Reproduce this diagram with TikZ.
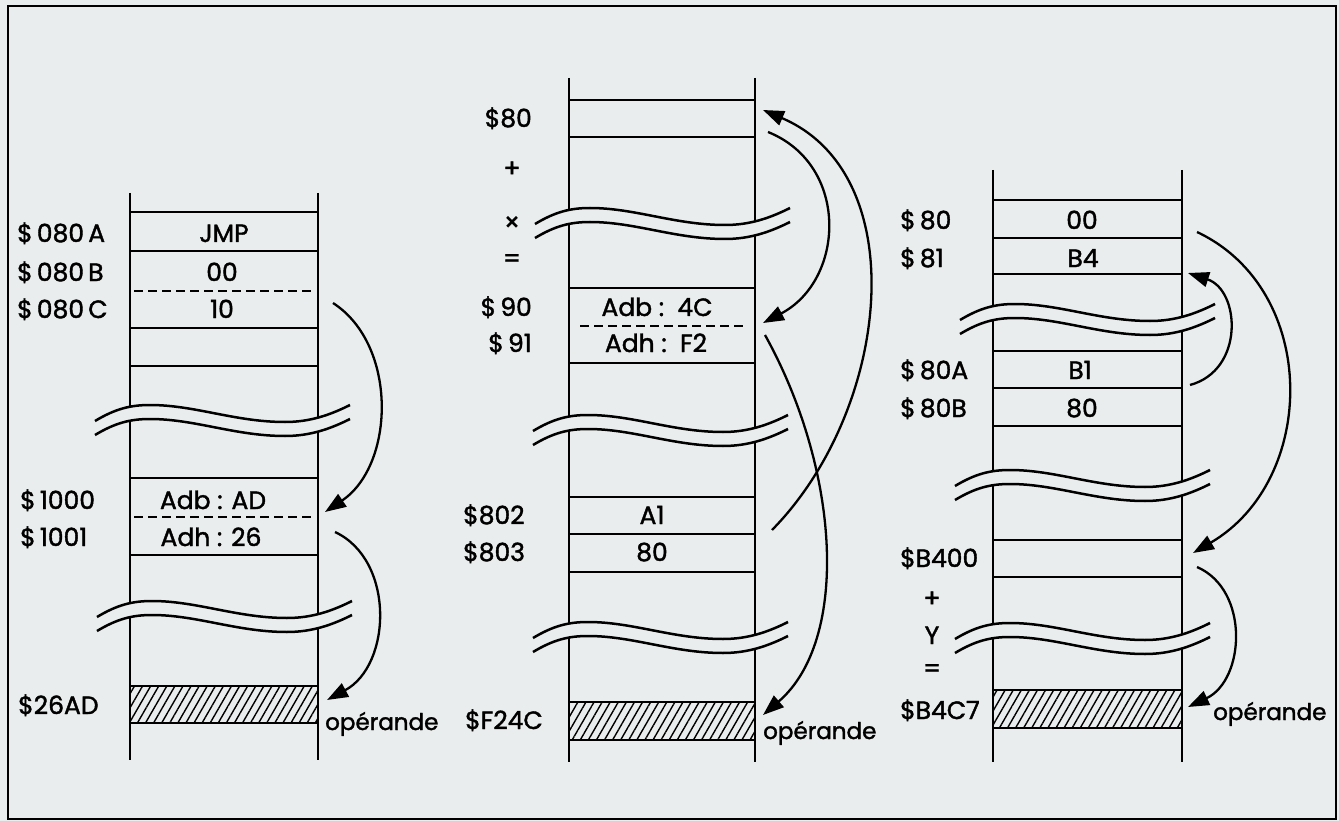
\documentclass[tikz,border=0pt]{standalone}
\usepackage{fontspec}
\setmainfont{Poppins}[FakeBold=1.6]
\usetikzlibrary{arrows.meta,patterns.meta}
\definecolor{bg}{RGB}{234,237,237}
\tikzset{
  lab/.style={inner sep=0pt, text height=18pt, text depth=0pt, font=\fontsize{25}{30}\selectfont},
  oplab/.style={inner sep=0pt, text height=18pt, text depth=0pt, font=\fontsize{23}{28}\selectfont},
  row/.style={line width=2.5pt},
  dashrow/.style={line width=2.5pt, dash pattern=on 9pt off 5pt},
  hatchbox/.style={line width=2.5pt, pattern={Lines[angle=60,distance=7pt,line width=1.4pt]}},
  jump/.style={line width=2.3pt, -{Triangle[length=21pt,width=15pt]}},
  brk/.pic={
    \fill[bg] (0,16) .. controls (20,4) and (35,0) .. (55,0) .. controls (100,0) and (140,17) .. (190,17) .. controls (215,17) and (235,10) .. (255,0)
      -- (255,14) .. controls (235,24) and (215,31) .. (190,31) .. controls (140,31) and (100,14) .. (55,14) .. controls (35,14) and (20,18) .. (0,30) -- cycle;
    \draw[line width=2.5pt] (0,16) .. controls (20,4) and (35,0) .. (55,0) .. controls (100,0) and (140,17) .. (190,17) .. controls (215,17) and (235,10) .. (255,0);
    \draw[line width=2.5pt] (0,30) .. controls (20,18) and (35,14) .. (55,14) .. controls (100,14) and (140,31) .. (190,31) .. controls (215,31) and (235,24) .. (255,14);
  }
}
\begin{document}
\begin{tikzpicture}[x=1pt,y=-1pt]
\useasboundingbox (0,0) rectangle (1339,821);
\fill[bg] (0,0) rectangle (1339,821);
\draw[line width=2.5pt] (8,6) rectangle (1336,819);

% ---------- left column ----------
\draw[line width=2.7pt] (130,193) -- (130,760);
\draw[line width=2.7pt] (318,193) -- (318,760);
\foreach \y in {212,251,328,366,478,555} \draw[row] (130,\y) -- (318,\y);
\draw[dashrow] (134,291) -- (314,291);
\draw[dashrow] (134,517) -- (314,517);
\draw[hatchbox] (130,686) rectangle (318,723);
\pic at (95,405) {brk};
\pic at (97,601) {brk};

% ---------- middle column ----------
\draw[line width=2.7pt] (569,78) -- (569,762);
\draw[line width=2.7pt] (755,78) -- (755,762);
\foreach \y in {100,137,288,363,497,534,572} \draw[row] (569,\y) -- (755,\y);
\draw[dashrow] (580,326) -- (745,326);
\draw[hatchbox] (569,702) rectangle (755,740);
\pic at (535,208) {brk};
\pic at (533,415) {brk};
\pic at (533,622) {brk};

% ---------- right column ----------
\draw[line width=2.7pt] (993,170) -- (993,762);
\draw[line width=2.7pt] (1182,170) -- (1182,762);
\foreach \y in {200,238,274,351,388,426,540,577} \draw[row] (993,\y) -- (1182,\y);
\draw[hatchbox] (993,690) rectangle (1182,728);
\pic at (960,304) {brk};
\pic at (955,470) {brk};
\pic at (955,623) {brk};

% ---------- labels left ----------
\node[lab,anchor=west] (a1) at (17,233) {\$\,080\,A};
\node[lab,anchor=west] (a2) at (17,272) {\$\,080\,B};
\node[lab,anchor=west] (a3) at (17,309) {\$\,080\,C};
\node[lab,anchor=west] (a4) at (20,500) {\$\,1000};
\node[lab,anchor=west] (a5) at (20,537) {\$\,1001};
\node[lab,anchor=west] (a6) at (18,705) {\$26AD};
\node[lab] (c1) at (224,233) {JMP};
\node[lab] (c2) at (222,272) {00};
\node[lab] (c3) at (222,309) {10};
\node[lab] (c4) at (213,500) {Adb : AD};
\node[lab] (c5) at (211,537) {Adh : 26};
\node[oplab,anchor=west] (op1) at (325,721) {opérande};

% ---------- labels middle ----------
\node[lab,anchor=east] (b1) at (532,118) {\$80};
\node[lab] (bp) at (512,168) {+};
\node[lab] (bx) at (512,222) {×};
\node[lab] (be) at (512,258) {=};
\node[lab,anchor=east] (b2) at (532,307) {\$\,90};
\node[lab,anchor=east] (b3) at (532,343) {\$\,91};
\node[lab,anchor=west] (b4) at (463,515) {\$802};
\node[lab,anchor=west] (b5) at (463,552) {\$803};
\node[lab,anchor=west] (b6) at (465,720) {\$F24C};
\node[lab] (d1) at (657,307) {Adb :\ \ 4C};
\node[lab] (d2) at (656,343) {Adh :\ \ F2};
\node[lab] (d3) at (652,515) {A1};
\node[lab] (d4) at (652,552) {80};
\node[oplab,anchor=west] (op2) at (763,730) {opérande};

% ---------- labels right ----------
\node[lab,anchor=west] (r1) at (900,220) {\$\,80};
\node[lab,anchor=west] (r2) at (900,258) {\$\,81};
\node[lab,anchor=west] (r3) at (900,370) {\$\,80A};
\node[lab,anchor=west] (r4) at (900,408) {\$\,80B};
\node[lab,anchor=west] (r5) at (900,558) {\$B400};
\node[lab] (rp) at (932,598) {+};
\node[lab] (ry) at (932,635) {Y};
\node[lab] (re) at (932,668) {=};
\node[lab,anchor=west] (r6) at (900,710) {\$B4C7};
\node[lab] (e1) at (1082,220) {00};
\node[lab] (e2) at (1083,258) {B4};
\node[lab] (e3) at (1080,370) {B1};
\node[lab] (e4) at (1082,408) {80};
\node[oplab,anchor=west] (op3) at (1213,711) {opérande};

% ---------- arrow endpoints ----------
\coordinate (L1s) at (333,303); \coordinate (L1e) at (325,512);
\coordinate (L2s) at (335,532); \coordinate (L2e) at (327,700);
\coordinate (MAs) at (768,132); \coordinate (MAe) at (763,323);
\coordinate (MBs) at (772,530); \coordinate (MBe) at (763,110);
\coordinate (MCs) at (765,335); \coordinate (MCe) at (763,715);
\coordinate (RDs) at (1190,385); \coordinate (RDe) at (1188,273);
\coordinate (REs) at (1197,232); \coordinate (REe) at (1193,553);
\coordinate (RFs) at (1197,567); \coordinate (RFe) at (1188,707);

\draw[jump] (L1s) .. controls (398,345) and (395,465) .. (L1e);
\draw[jump] (L2s) .. controls (395,560) and (392,665) .. (L2e);
\draw[jump] (MAs) .. controls (850,165) and (845,280) .. (MAe);
\draw[jump] (MBs) .. controls (890,410) and (915,175) .. (MBe);
\draw[jump] (MCs) .. controls (840,470) and (850,640) .. (MCe);
\draw[jump] (RDs) .. controls (1245,370) and (1240,290) .. (RDe);
\draw[jump] (REs) .. controls (1320,290) and (1318,480) .. (REe);
\draw[jump] (RFs) .. controls (1250,590) and (1245,680) .. (RFe);
\end{tikzpicture}
\end{document}
